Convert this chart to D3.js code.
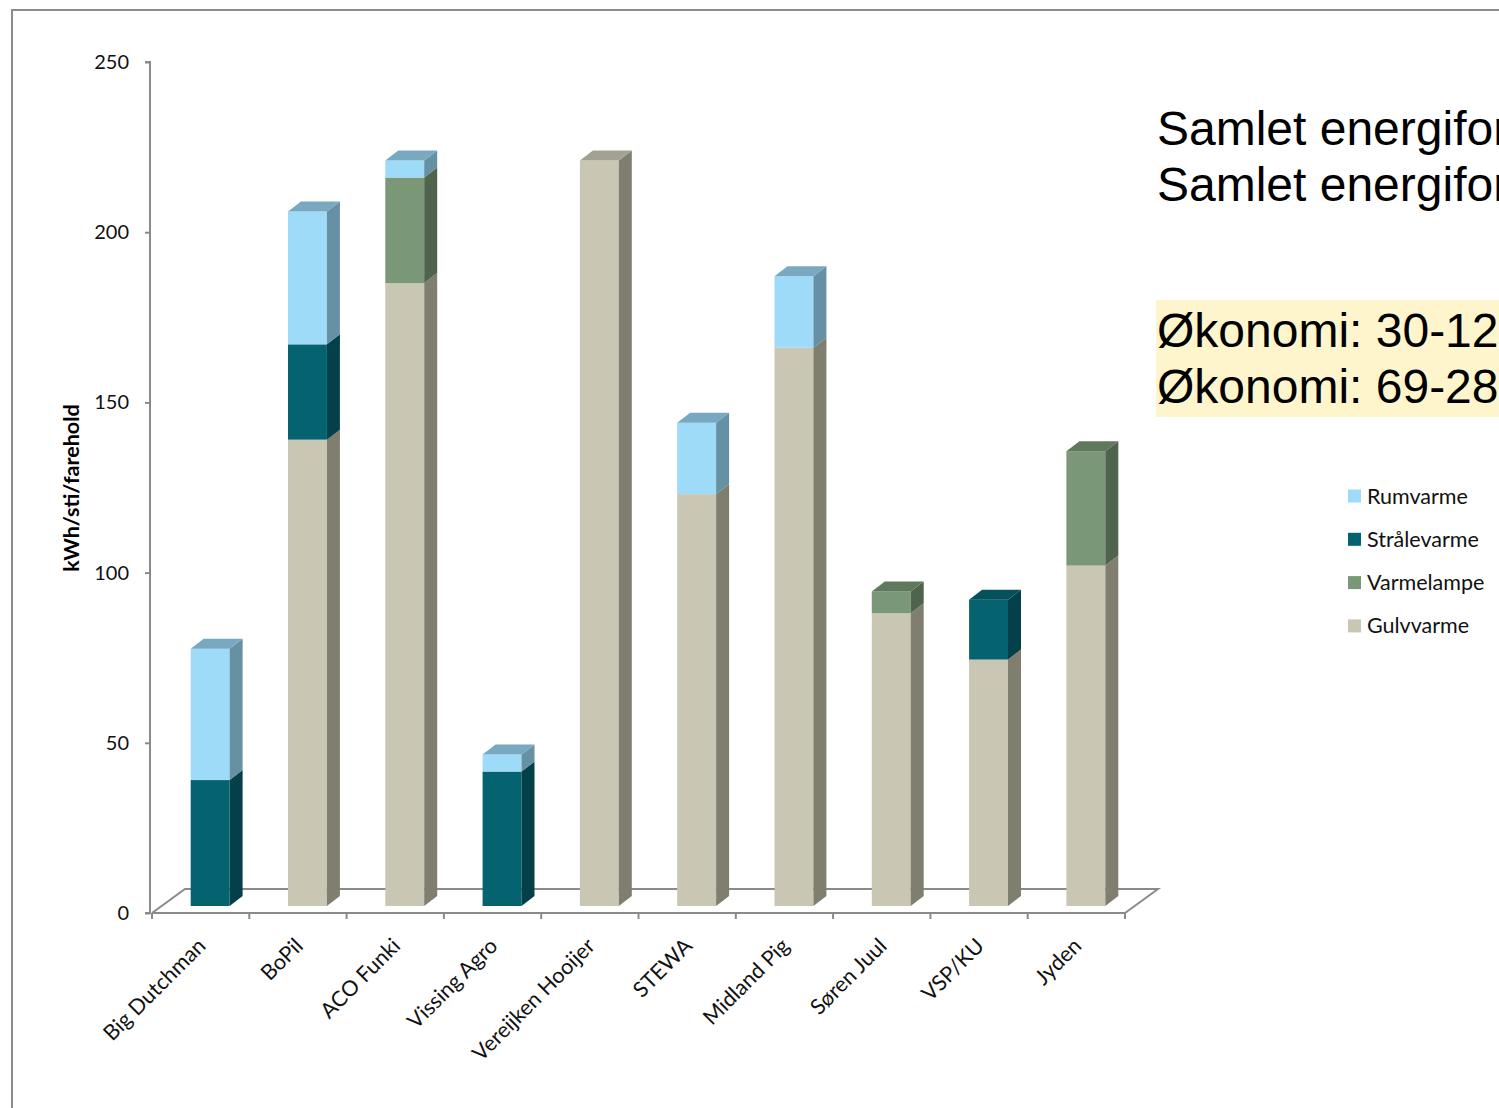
<!DOCTYPE html>
<html>
<head>
<meta charset="utf-8">
<script src="https://cdn.jsdelivr.net/npm/d3@7"></script>
<style>
  body { margin: 0; background: #fff; }
  svg { display: block; }
</style>
</head>
<body>
<div id="chart"></div>
<script>
// Data
const categories = ["Big Dutchman", "BoPil", "ACO Funki", "Vissing Agro", "Vereijken Hooijer",
                    "STEWA", "Midland Pig", "Søren Juul", "VSP/KU", "Jyden"];
const gulvvarme   = [0, 137, 183, 0, 219, 121, 164, 86, 72.4, 100];
const varmelampe  = [0, 0, 31, 0, 0, 0, 0, 6.4, 0, 33.6];
const straalevarme = [37, 28, 0, 39.5, 0, 0, 0, 0, 17.6, 0];
const rumvarme    = [38.6, 39, 5, 5, 0, 21, 21, 0, 0, 0];
const yTicks = [0, 50, 100, 150, 200, 250];

// stacked bottom-up
const series = [
  { name: "Gulvvarme",   values: gulvvarme,    front: "#c9c6b3", side: "#807f6f", top: "#a3a191" },
  { name: "Varmelampe",  values: varmelampe,   front: "#7a9778", side: "#4f634d", top: "#5e795b" },
  { name: "Strålevarme", values: straalevarme, front: "#05636f", side: "#04404a", top: "#04505b" },
  { name: "Rumvarme",    values: rumvarme,     front: "#9ddbf9", side: "#6690a4", top: "#78a9c1" }
];

const W = 1499, H = 1108;
const svg = d3.select("#chart").append("svg").attr("width", W).attr("height", H);

svg.append("rect").attr("x", 0).attr("y", 0).attr("width", W).attr("height", H).attr("fill", "#fff");
// slide frame
svg.append("rect").attr("x", 12).attr("y", 10).attr("width", W + 20).attr("height", H + 20)
  .attr("fill", "none").attr("stroke", "#8c8c8c").attr("stroke-width", 2);

const axisColor = "#8a8a8a";
const x = d3.scaleBand().domain(categories).range([152, 1125]).padding(0);
const y = d3.scaleLinear().domain([0, 250]).range([913, 62]);

// 3d offsets
const floorDx = 33, floorDy = -24;
const fx = 9.5, fy = -7;     // bar front plane offset
const dx = 13, dy = -10;     // bar depth
const barW = x.bandwidth() * 0.4;

// floor
const x0 = x.range()[0], x1 = x.range()[1], yb = y(0);
svg.append("path")
  .attr("d", `M${x0},${yb} L${x0 + floorDx},${yb + floorDy} L${x1 + floorDx},${yb + floorDy} L${x1},${yb}`)
  .attr("fill", "none").attr("stroke", axisColor).attr("stroke-width", 2);

// bars
const stacks = categories.map((c, i) => {
  let cum = 0;
  const segs = [];
  series.forEach(s => {
    const v = s.values[i];
    if (v > 0) { segs.push({ s, y0: cum, y1: cum + v }); cum += v; }
  });
  return { c, segs };
});

const gBars = svg.append("g");
stacks.forEach(st => {
  const xl = x(st.c) + x.bandwidth() / 2 - barW / 2 + fx;
  const xr = xl + barW;
  st.segs.forEach((seg, k) => {
    const yT = y(seg.y1) + fy, yB = y(seg.y0) + fy;
    gBars.append("rect")
      .attr("x", xl).attr("y", yT).attr("width", barW).attr("height", yB - yT)
      .attr("fill", seg.s.front);
    gBars.append("path")
      .attr("d", `M${xr},${yT} L${xr + dx},${yT + dy} L${xr + dx},${yB + dy} L${xr},${yB}Z`)
      .attr("fill", seg.s.side);
    if (k === st.segs.length - 1) {
      gBars.append("path")
        .attr("d", `M${xl},${yT} L${xl + dx},${yT + dy} L${xr + dx},${yT + dy} L${xr},${yT}Z`)
        .attr("fill", seg.s.top);
    }
  });
});

// y axis
const yAxis = svg.append("g").attr("transform", "translate(150,0)")
  .call(d3.axisLeft(y).tickValues(yTicks).tickSize(5).tickPadding(16));
yAxis.select(".domain").attr("stroke", axisColor).attr("stroke-width", 2).attr("d", `M-5,${y(250)}H0V${y(0)}H-5`);
yAxis.selectAll(".tick line").attr("stroke", axisColor).attr("stroke-width", 2);
yAxis.selectAll(".tick text").attr("font-family", "Lato, sans-serif").attr("font-size", 20).attr("fill", "#111");

// x axis front edge + ticks
svg.append("line").attr("x1", x0).attr("x2", x1).attr("y1", yb).attr("y2", yb)
  .attr("stroke", axisColor).attr("stroke-width", 2);
const bounds = categories.map(c => x(c)).concat([x1]);
svg.selectAll(".xtick").data(bounds).enter().append("line")
  .attr("x1", d => d).attr("x2", d => d).attr("y1", yb).attr("y2", yb + 6)
  .attr("stroke", axisColor).attr("stroke-width", 2);

svg.selectAll(".xlab").data(categories).enter().append("text")
  .attr("transform", d => `translate(${x(d) + x.bandwidth() / 2 + 1},${yb + 29}) rotate(-45)`)
  .attr("text-anchor", "end").attr("dy", "0.35em")
  .attr("font-family", "Lato, sans-serif").attr("font-size", 21.5).attr("fill", "#111")
  .text(d => d);

// y title
svg.append("text")
  .attr("transform", `translate(79,488) rotate(-90)`)
  .attr("text-anchor", "middle")
  .attr("font-family", "Lato, sans-serif").attr("font-weight", "bold").attr("font-size", 21.5)
  .attr("fill", "#000").text("kWh/sti/farehold");

// legend
const legendItems = series.slice().reverse();
const lg = svg.append("g").attr("transform", "translate(1348,496)");
legendItems.forEach((s, i) => {
  lg.append("rect").attr("x", 0).attr("y", i * 43.3 - 6.5).attr("width", 13).attr("height", 13).attr("fill", s.front);
  lg.append("text").attr("x", 19).attr("y", i * 43.3).attr("dy", "0.35em")
    .attr("font-family", "Lato, sans-serif").attr("font-size", 21.5).attr("fill", "#111").text(s.name);
});

// slide text (runs off the right edge, as on the slide)
svg.append("rect").attr("x", 1156).attr("y", 300).attr("width", 360).attr("height", 117).attr("fill", "#fff5cc");
const bigLines = [
  { t: "Samlet energifor", y: 145 },
  { t: "Samlet energifor", y: 201 },
  { t: "Økonomi: 30-12", y: 347 },
  { t: "Økonomi: 69-28", y: 403 }
];
bigLines.forEach(l => {
  svg.append("text").attr("x", 1157).attr("y", l.y)
    .attr("font-family", "'Liberation Sans', Arial, sans-serif").attr("font-size", 48)
    .attr("fill", "#000").text(l.t);
});
</script>
</body>
</html>
